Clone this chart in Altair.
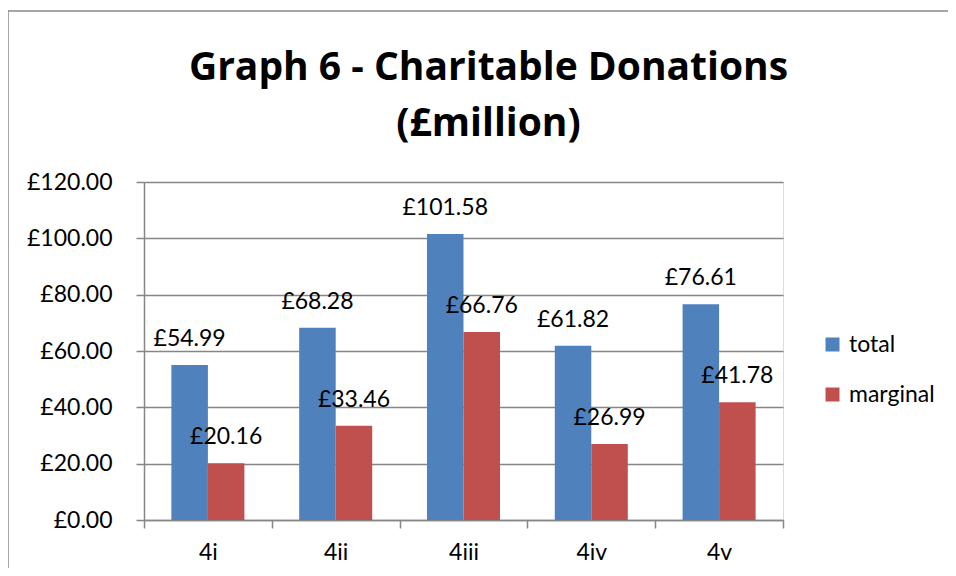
import altair as alt
import pandas as pd

categories = ["4i", "4ii", "4iii", "4iv", "4v"]
series = ["total", "marginal"]
total = [54.99, 68.28, 101.58, 61.82, 76.61]
marginal = [20.16, 33.46, 66.76, 26.99, 41.78]
y_ticks = [0, 20, 40, 60, 80, 100, 120]
colors = ["#4F81BD", "#C0504D"]

rows = []
for c, t, m in zip(categories, total, marginal):
    rows.append({"cat": c, "series": "total", "value": t})
    rows.append({"cat": c, "series": "marginal", "value": m})
df = pd.DataFrame(rows)

FONT = "Lato"
TFONT = "Open Sans"
GRAY = "#868686"
FS = 23

x = alt.X("cat:N", sort=categories, title=None,
          scale=alt.Scale(paddingInner=0, paddingOuter=0),
          axis=alt.Axis(labelAngle=0, tickBand="extent", domainColor=GRAY, domainWidth=1.5,
                        tickColor=GRAY, tickWidth=1.5, tickSize=8, labelPadding=13,
                        labelFontSize=FS, labelFont=FONT, labelColor="black",
                        labelFontWeight="normal", grid=False))
xo = alt.XOffset("series:N", sort=series,
                 scale=alt.Scale(domain=series, paddingOuter=0.75, paddingInner=0))
y = alt.Y("value:Q", title=None, scale=alt.Scale(domain=[0, 120]),
          axis=alt.Axis(values=y_ticks, labelExpr="'£' + format(datum.value, '.2f')",
                        domainColor=GRAY, domainWidth=1.5, tickColor=GRAY, tickWidth=1.5,
                        tickSize=8, labelPadding=24, labelFontSize=FS, labelFont=FONT,
                        labelColor="black", gridColor=GRAY, gridWidth=1.5))

bars = alt.Chart(df).mark_bar().encode(
    x=x, xOffset=xo, y=y,
    color=alt.Color("series:N", sort=series,
                    scale=alt.Scale(domain=series, range=colors),
                    legend=alt.Legend(orient="none", legendX=677, legendY=151, title=None,
                                      symbolType="square", symbolSize=196,
                                      symbolStrokeWidth=0, labelFontSize=FS, labelFont=FONT,
                                      labelColor="black", rowPadding=26, labelOffset=5)),
)

labels = alt.Chart(df).transform_calculate(
    label="'£' + format(datum.value, '.2f')"
).mark_text(dy=-19, baseline="alphabetic", fontSize=FS, font=FONT, color="black").encode(
    x=x, xOffset=xo, y=y, text="label:N"
)

border = alt.Chart(pd.DataFrame({"a": [0]})).mark_rect(
    fill=None, stroke="#898989", strokeWidth=1.5
).encode(x=alt.value(-136), y=alt.value(-171), x2=alt.value(900), y2=alt.value(500))

chart = alt.layer(border, bars, labels).properties(
    width=639, height=338,
    autosize=alt.AutoSizeParams(type="none"),
    padding={"left": 136, "top": 174, "right": 165, "bottom": 48},
    title=alt.TitleParams(text=["Graph 6 - Charitable Donations", "(£million)"],
                          fontSize=39, font=TFONT, fontWeight="bold", lineHeight=56,
                          anchor="middle", dx=25, offset=-134, color="black"),
).configure_view(stroke=None).configure(background="white")

chart.save("out.html", embed_options={"renderer": "svg", "actions": False})
